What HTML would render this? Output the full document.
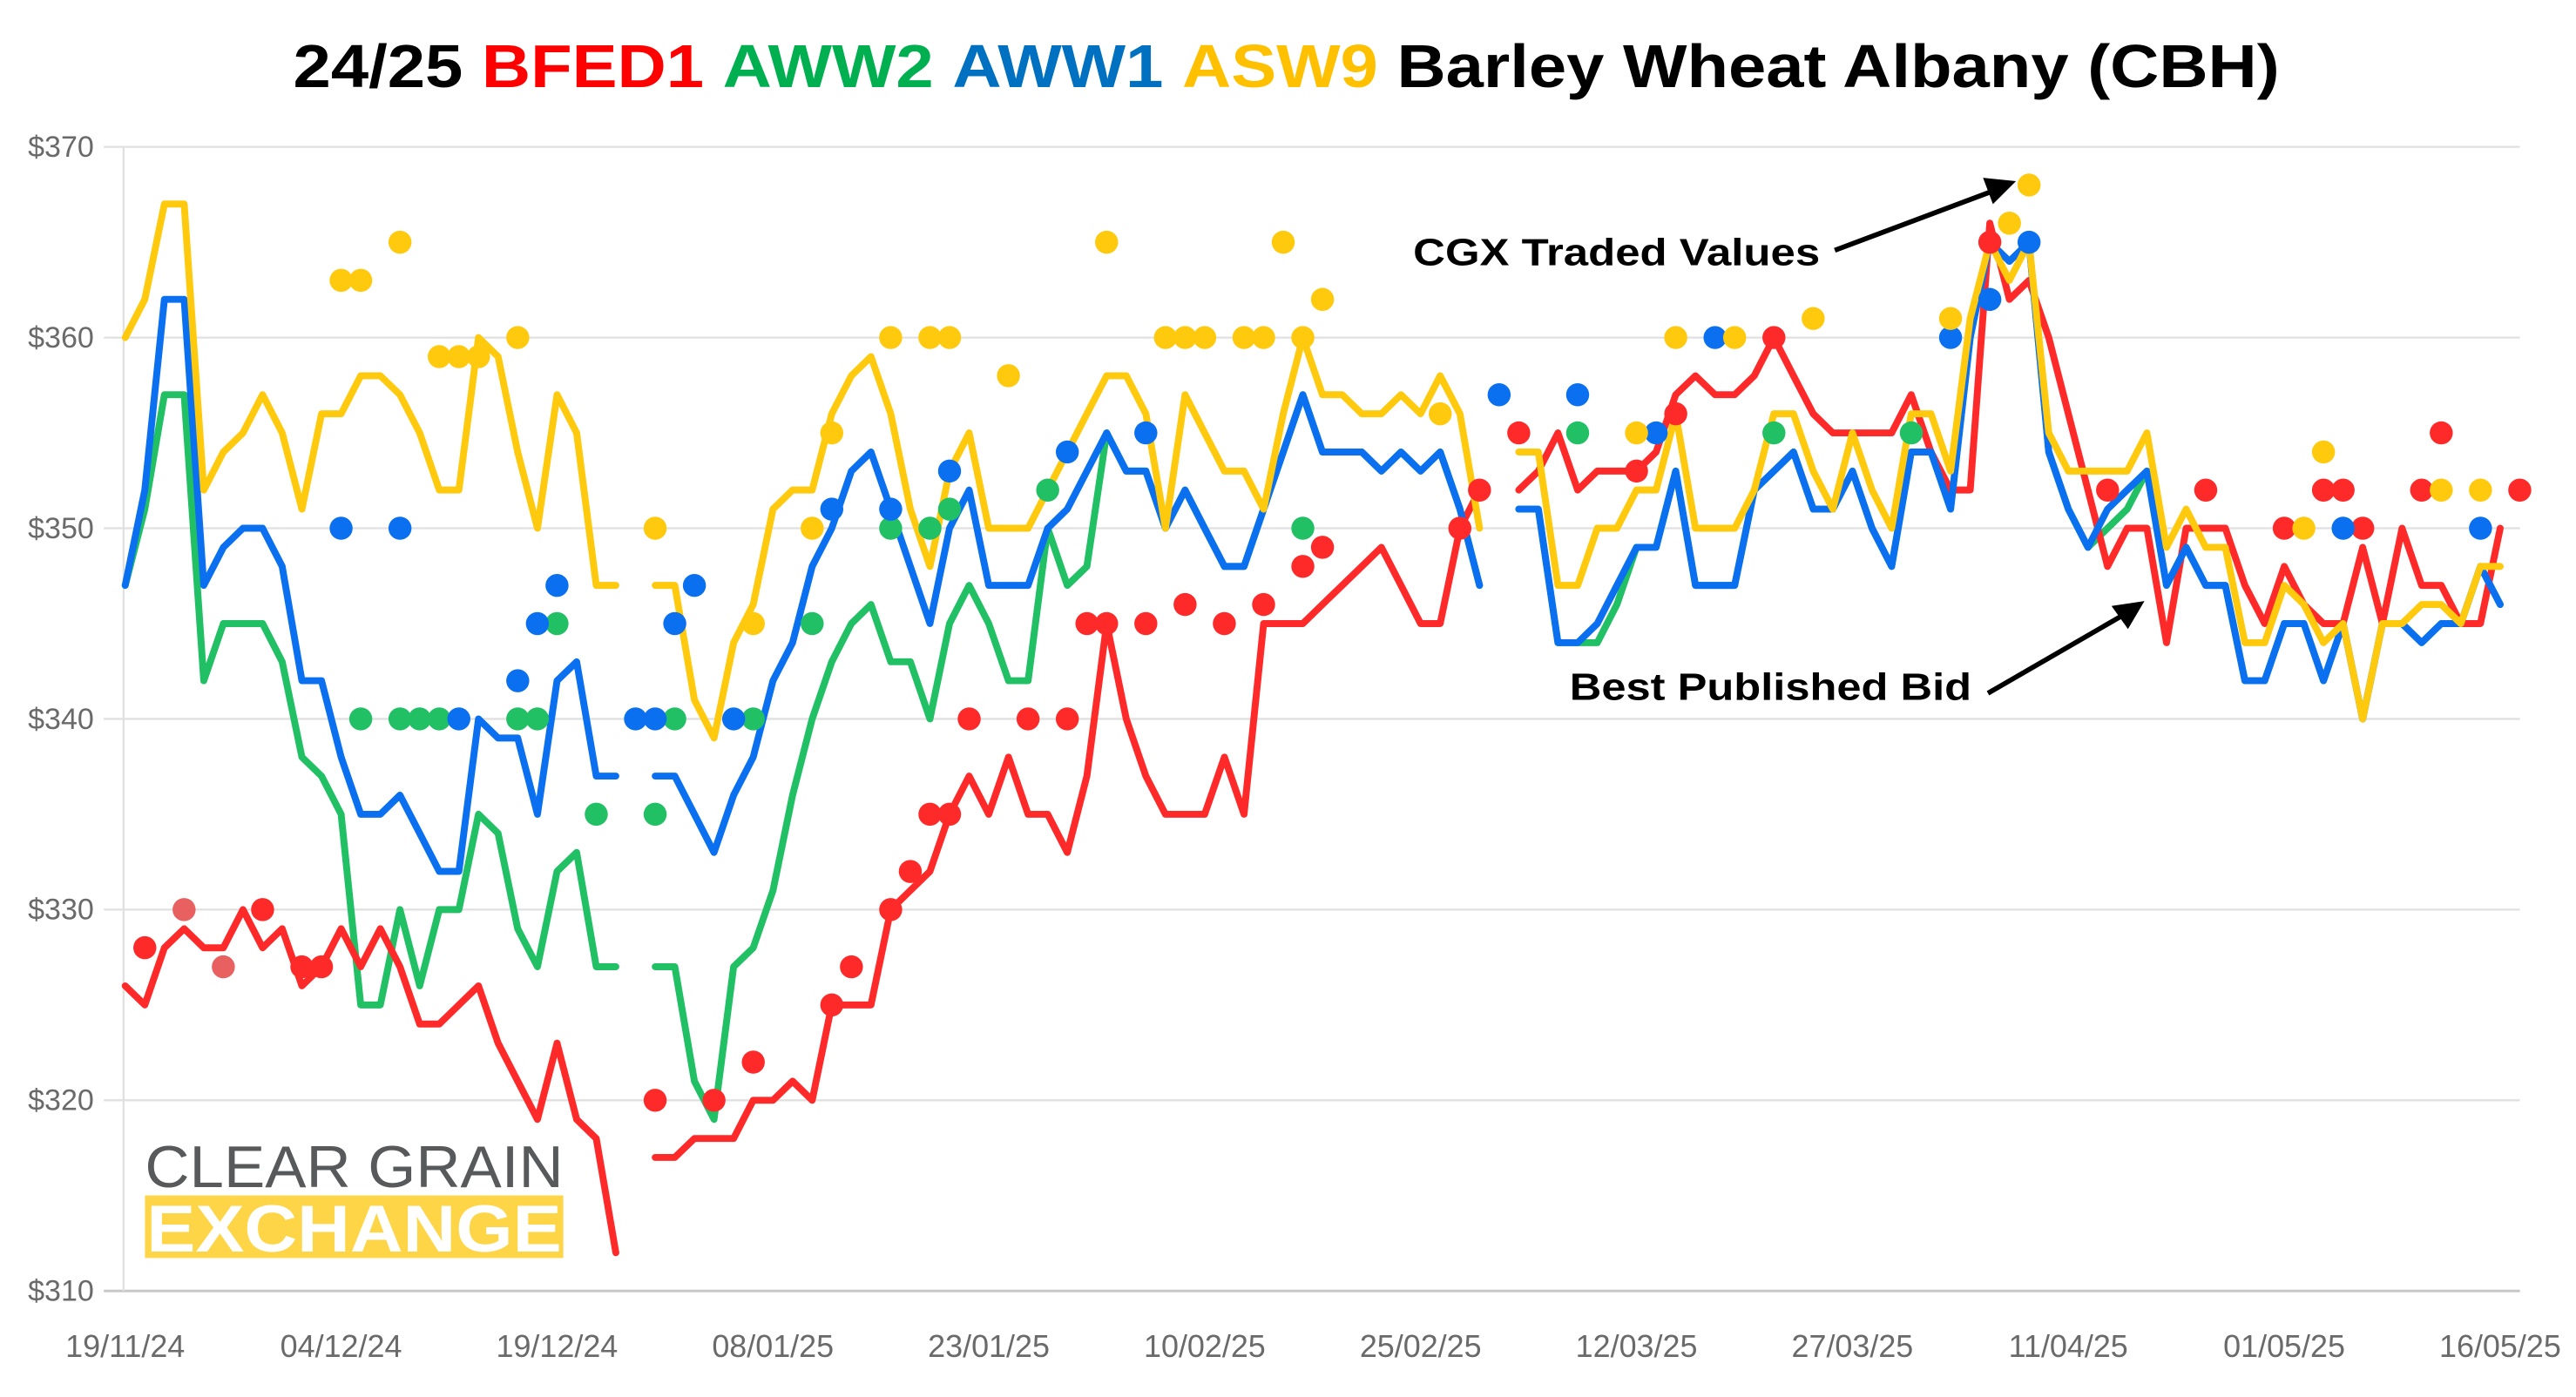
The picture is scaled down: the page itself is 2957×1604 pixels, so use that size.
<!DOCTYPE html>
<html><head><meta charset="utf-8"><style>
html,body{margin:0;padding:0;background:#fff;}
svg{display:block;}
</style></head><body>
<svg id="chart" width="2957" height="1604" viewBox="0 0 1564 848.4" xmlns="http://www.w3.org/2000/svg">
<rect width="1564" height="848.4" fill="#fff"/>
<text x="781" y="53" text-anchor="middle" font-family="Liberation Sans, sans-serif" font-weight="bold" font-size="37" textLength="1206" lengthAdjust="spacingAndGlyphs"><tspan fill="#000">24/25 </tspan><tspan fill="#ff0000">BFED1 </tspan><tspan fill="#00b050">AWW2 </tspan><tspan fill="#0070c0">AWW1 </tspan><tspan fill="#ffc000">ASW9 </tspan><tspan fill="#000"> Barley Wheat Albany (CBH)</tspan></text>
<g id="grid"></g>
<g id="logo">
<text x="88" y="721" font-family="Liberation Sans, sans-serif" font-size="36" fill="#58595b" textLength="254" lengthAdjust="spacingAndGlyphs">CLEAR GRAIN</text>
<rect x="88" y="726" width="254" height="38" fill="#fdd547"/>
<text x="89" y="760" font-family="Liberation Sans, sans-serif" font-weight="bold" font-size="40" fill="#fff" textLength="252" lengthAdjust="spacingAndGlyphs">EXCHANGE</text>
</g>
<g id="lines"></g>
<g id="dots"></g>
<g>
<text x="858" y="161" font-family="Liberation Sans, sans-serif" font-weight="bold" font-size="23" fill="#000" textLength="247" lengthAdjust="spacingAndGlyphs">CGX Traded Values</text>
<line x1="1114" y1="152" x2="1210" y2="116" stroke="#000" stroke-width="3"/>
<polygon points="1224,110 1204,108 1210,124" fill="#000"/>
</g>
<g>
<text x="953" y="425" font-family="Liberation Sans, sans-serif" font-weight="bold" font-size="23" fill="#000" textLength="244" lengthAdjust="spacingAndGlyphs">Best Published Bid</text>
<line x1="1207" y1="421" x2="1290" y2="373" stroke="#000" stroke-width="3"/>
<polygon points="1302,365 1282,368 1292,382" fill="#000"/>
</g>
</svg>
<script>
const yTicks = [310,320,330,340,350,360,370];
const xLabels = ["19/11/24","04/12/24","19/12/24","08/01/25","23/01/25","10/02/25","25/02/25","12/03/25","27/03/25","11/04/25","01/05/25","16/05/25"];
const xLabelIdx = [0,11,22,33,44,55,66,77,88,99,110,121];
const N = null;
const bfed1 = [326,325,328,329,328,328,330,328,329,326,327,329,327,329,327,324,324,325,326,323,321,319,323,319,318,312,N,317,317,318,318,318,320,320,321,320,325,325,325,330,331,332,335,337,335,338,335,335,333,337,345,340,337,335,335,335,338,335,345,345,345,346,347,348,349,347,345,345,350,352,N,352,353,355,352,353,353,353,354,357,358,357,357,358,360,358,356,355,355,355,355,357,354,352,352,366,362,363,360,356,352,348,350,350,344,350,350,350,347,345,348,346,345,345,349,345,350,347,347,345,345,350];
const aww1 = [347,352,362,362,347,349,350,350,348,342,342,338,335,335,336,334,332,332,340,339,339,335,342,343,337,337,N,337,337,335,333,336,338,342,344,348,350,353,354,351,348,345,350,352,347,347,347,350,351,353,355,353,353,350,352,350,348,348,351,354,357,354,354,354,353,354,353,354,351,347,N,351,351,344,344,345,347,349,349,353,347,347,347,352,353,354,351,351,353,350,348,354,354,351,360,365,364,365,354,351,349,351,352,353,347,349,347,347,342,342,345,345,342,345,340,345,345,344,345,345,348,346];
const aww2 = [347,351,357,357,342,345,345,345,343,338,337,335,325,325,330,326,330,330,335,334,329,327,332,333,327,327,N,327,327,321,319,327,328,331,336,340,343,345,346,343,343,340,345,347,345,342,342,350,347,348,355,353,353,350,352,350,348,348,351,354,357,354,354,354,353,354,353,354,351,347,N,351,351,344,344,344,346,349,349,353,347,347,347,352,353,354,351,351,353,350,348,354,354,351,360,365,364,365,354,351,349,350,351,353,347,349,347,347,342,342,345,345,342,345,340,345,345,344,345,345,348,346];
const asw9 = [360,362,367,367,352,354,355,357,355,351,356,356,358,358,357,355,352,352,360,359,354,350,357,355,347,347,N,347,347,341,339,344,346,351,352,352,356,358,359,356,351,348,353,355,350,350,350,352,354,356,358,358,356,350,357,355,353,353,351,356,360,357,357,356,356,357,356,358,356,350,N,354,354,347,347,350,350,352,352,356,350,350,350,352,356,356,353,351,355,352,350,356,356,353,361,365,363,365,355,353,353,353,353,355,349,351,349,349,344,344,347,346,344,345,340,345,345,346,346,345,348,348];
const bfed1DotIdx = [1,3,5,7,9,10,27,30,32,36,37,39,40,41,42,43,46,48,49,50,52,54,56,58,60,61,68,69,71,77,79,84,95,101,106,110,112,113,114,117,118,122];
const bfed1DotVal = [328,330,327,330,327,327,320,320,322,325,327,330,332,335,335,340,340,340,345,345,345,346,345,346,348,349,350,352,355,353,356,360,365,352,352,350,352,352,350,352,355,352];
const aww2DotIdx = [12,14,15,16,20,21,22,24,27,28,32,35,39,41,42,47,60,74,84,91];
const aww2DotVal = [340,340,340,340,340,340,345,335,335,340,340,345,350,350,351,352,350,355,355,355];
const aww1DotIdx = [11,14,17,20,21,22,26,27,28,29,31,36,39,42,48,52,70,74,78,81,93,95,97,113,120];
const aww1DotVal = [350,350,340,342,345,347,340,340,345,347,340,351,351,353,354,355,357,357,355,360,360,362,365,350,350];
const asw9DotIdx = [11,12,14,16,17,18,20,27,32,35,36,39,41,42,45,50,53,54,55,57,58,59,60,61,67,77,79,82,86,93,96,97,111,112,118,120];
const asw9DotVal = [363,363,365,359,359,359,360,350,345,350,355,360,360,360,358,365,360,360,360,360,360,365,360,362,356,355,360,360,361,361,366,368,350,354,352,352];

const NS = "http://www.w3.org/2000/svg";
const X0 = 76, DX = 11.917, Y0 = 784, DY = 11.58, PL = 75, PR = 1530;
function xs(i){ return X0 + i*DX; }
function ys(v){ return Y0 - (v-310)*DY; }
function mk(tag, attrs){ const e = document.createElementNS(NS, tag); for (const k in attrs) e.setAttribute(k, attrs[k]); return e; }

const grid = document.getElementById('grid');
yTicks.forEach(function(t){
  const ln = mk('line', {x1:63, x2:PR, y1:ys(t), y2:ys(t), stroke: t===310 ? '#c8c8c8' : '#e0e0e0', 'stroke-width': t===310 ? 1.6 : 1.2});
  
  
  grid.appendChild(ln);
  const tx = mk('text', {x:57, y:ys(t)+6, 'text-anchor':'end', 'font-family':'Liberation Sans, sans-serif', 'font-size':18, fill:'#6a6a6a'});
  tx.textContent = '$' + t;
  
  
  grid.appendChild(tx);
});
const yax = mk('line', {x1:PL, x2:PL, y1:ys(370), y2:ys(310), stroke:'#e0e0e0', 'stroke-width':1.2});


grid.appendChild(yax);
xLabels.forEach(function(l, k){
  const tx = mk('text', {x:xs(xLabelIdx[k]), y:824, 'text-anchor':'middle', 'font-family':'Liberation Sans, sans-serif', 'font-size':19, fill:'#6a6a6a'});
  tx.textContent = l;
  
  
  grid.appendChild(tx);
});

const lines = document.getElementById('lines');
function drawLine(arr, color, name){
  let d = '', pen = false;
  arr.forEach(function(v, i){
    if (v === null) { pen = false; return; }
    d += (pen ? 'L' : 'M') + xs(i).toFixed(1) + ',' + ys(v).toFixed(1);
    pen = true;
  });
  const p = mk('path', {d:d, fill:'none', stroke:color, 'stroke-width':4.2, 'stroke-linejoin':'round', 'stroke-linecap':'round'});
  
  
  lines.appendChild(p);
}
drawLine(aww2, '#22c065', 'aww2-line');
drawLine(bfed1, '#fe2a2a', 'bfed1-line');
drawLine(aww1, '#0a70f0', 'aww1-line');
drawLine(asw9, '#ffc90e', 'asw9-line');

const dots = document.getElementById('dots');
function drawDots(idx, vals, color, name, light){
  idx.forEach(function(i, k){
    const c = mk('circle', {cx:xs(i), cy:ys(vals[k]), r:7, fill:(light && light.indexOf(i)>=0) ? '#e86060' : color});
    
    
    dots.appendChild(c);
  });
}
drawDots(aww2DotIdx, aww2DotVal, '#22c065', 'aww2-traded-dot');
drawDots(bfed1DotIdx, bfed1DotVal, '#fe2a2a', 'bfed1-traded-dot', [3,5]);
drawDots(aww1DotIdx, aww1DotVal, '#0a70f0', 'aww1-traded-dot');
drawDots(asw9DotIdx, asw9DotVal, '#ffc90e', 'asw9-traded-dot');
</script>
</body></html>
